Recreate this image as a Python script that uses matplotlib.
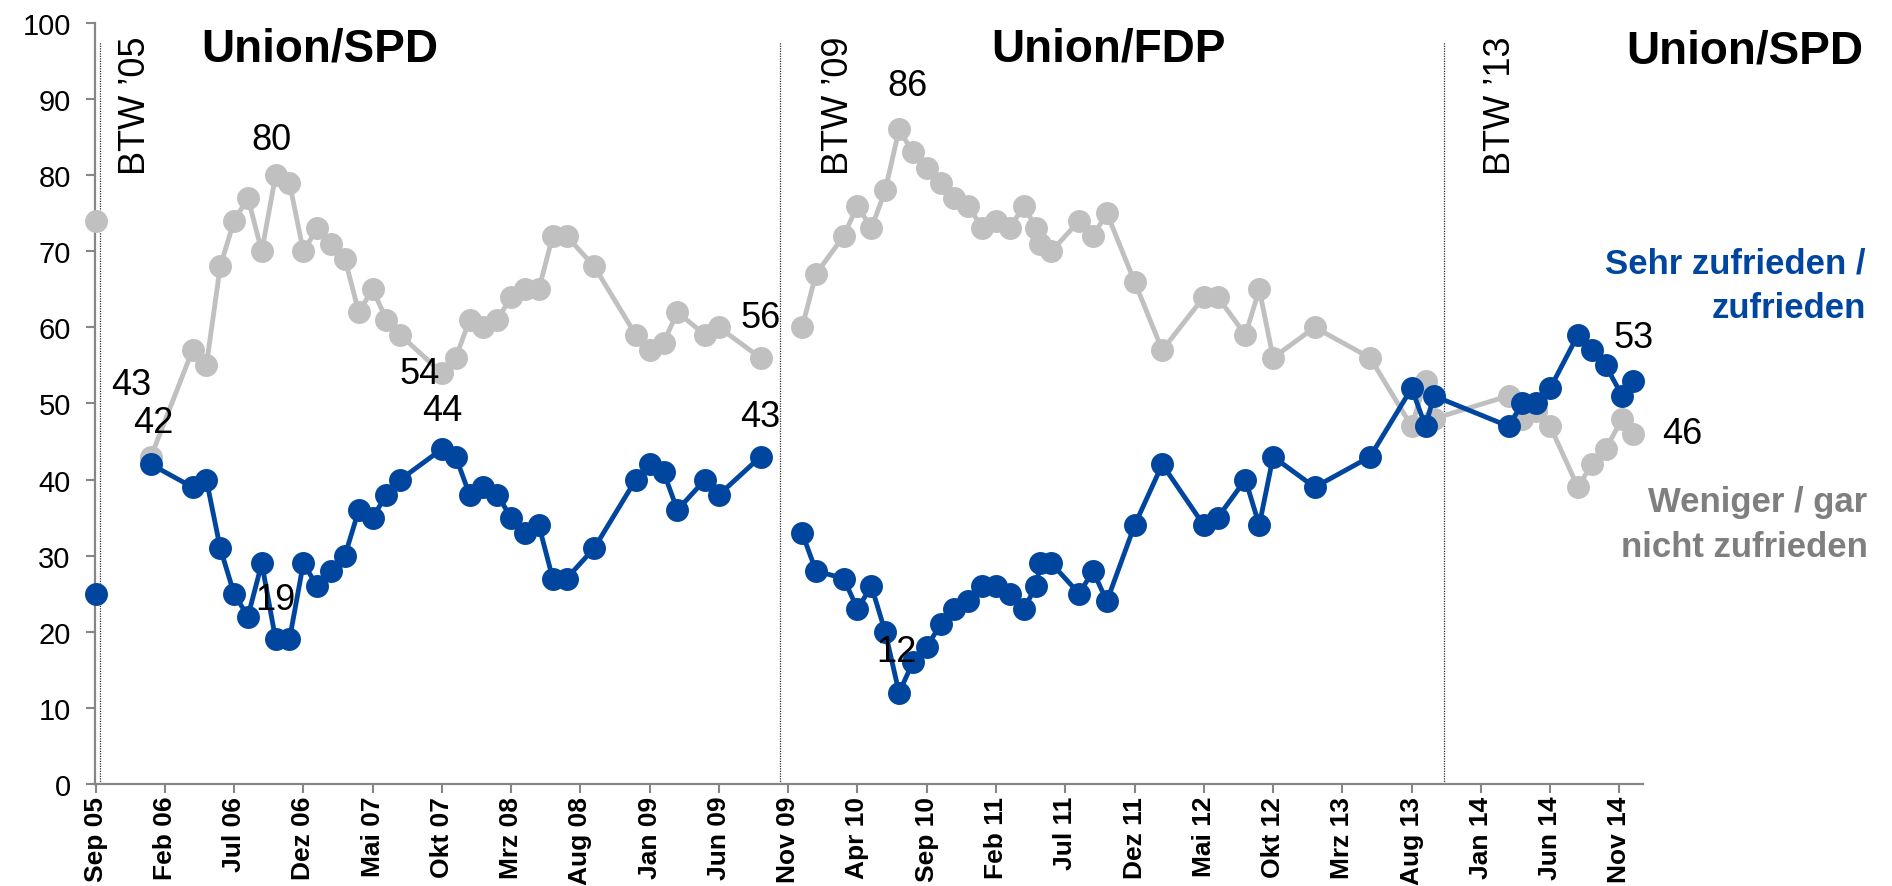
import numpy as np
import matplotlib
matplotlib.use("Agg")
import matplotlib.pyplot as plt

# ---------------- data (months since Sep 2005) ----------------
months = [0, 2, 4, 7, 8, 9, 10, 11, 12, 13, 14, 15, 16, 17, 18, 19, 20, 21, 22,
          25, 26, 27, 28, 29, 30, 31, 32, 33, 34, 36, 39, 40, 41, 42, 44, 45, 48,
          49.5, 51, 52, 54, 55, 56, 57, 58, 59, 60, 61, 62, 63, 64, 65, 66, 67,
          67.9, 68.2, 69, 71, 72, 73, 75, 77, 80, 81, 83, 84, 85, 88, 92, 95,
          96, 96.6, 102, 103, 104, 105, 107, 108, 109, 110.2, 111]

satisfied = [25, np.nan, 42, 39, 40, 31, 25, 22, 29, 19, 19, 29, 26, 28, 30, 36, 35, 38, 40,
             44, 43, 38, 39, 38, 35, 33, 34, 27, 27, 31, 40, 42, 41, 36, 40, 38, 43,
             np.nan, 33, 28, 27, 23, 26, 20, 12, 16, 18, 21, 23, 24, 26, 26, 25, 23,
             26, 29, 29, 25, 28, 24, 34, 42, 34, 35, 40, 34, 43, 39, 43, 52,
             47, 51, 47, 50, 50, 52, 59, 57, 55, 51, 53]

dissatisfied = [74, np.nan, 43, 57, 55, 68, 74, 77, 70, 80, 79, 70, 73, 71, 69, 62, 65, 61, 59,
                54, 56, 61, 60, 61, 64, 65, 65, 72, 72, 68, 59, 57, 58, 62, 59, 60, 56,
                np.nan, 60, 67, 72, 76, 73, 78, 86, 83, 81, 79, 77, 76, 73, 74, 73, 76,
                73, 71, 70, 74, 72, 75, 66, 57, 64, 64, 59, 65, 56, 60, 56, 47,
                53, 48, 51, 48, 49, 47, 39, 42, 44, 48, 46]

tick_months = list(range(0, 111, 5))
tick_labels = ["Sep 05", "Feb 06", "Jul 06", "Dez 06", "Mai 07", "Okt 07", "Mrz 08",
               "Aug 08", "Jan 09", "Jun 09", "Nov 09", "Apr 10", "Sep 10", "Feb 11",
               "Jul 11", "Dez 11", "Mai 12", "Okt 12", "Mrz 13", "Aug 13", "Jan 14",
               "Jun 14", "Nov 14"]

election_months = [0.3, 49.4, 97.3]
election_labels = ["BTW \u201905", "BTW \u201909", "BTW \u201913"]
coalition_labels = ["Union/SPD", "Union/FDP", "Union/SPD"]

# labelled points: month ; label offset in points
sat_labels = [(4, (2, 30)), (25, (0, 28)), (13, (0, 29)), (48, (0, 29)), (58, (-2, 30)), (111, (0, 31))]
dis_labels = [(4, (-14, 52)), (13, (-3, 26)), (25, (-16, 0)), (48, (0, 29)), (58, (6, 32)), (111, (35, 0))]

BLUE = "#00469E"
GREY = "#C0C0C0"
AXC = "#868686"
NARROW = ["Liberation Sans Narrow", "Liberation Sans", "DejaVu Sans"]
SANS = ["Liberation Sans", "DejaVu Sans"]

fig = plt.figure(figsize=(18.92, 8.87), dpi=100)
ax = fig.add_axes([0.0502, 0.115, 0.8182, 0.858])

ax.plot(months, dissatisfied, color=GREY, lw=3.5, marker="o", ms=15.5, clip_on=False, zorder=3)
ax.plot(months, satisfied, color=BLUE, lw=3.5, marker="o", ms=15.5, clip_on=False, zorder=4)

ax.set_xlim(-0.04, 111.7)
ax.set_ylim(0, 100)

for xm in election_months:
    ax.plot([xm, xm], [0, 97.5], color="#333333", lw=0.9, ls=(0, (1, 1)), zorder=1)

ax.text(2.9, 98.3, election_labels[0], rotation=90, ha="center", va="top", fontsize=26, family=SANS)
ax.text(53.6, 98.3, election_labels[1], rotation=90, ha="center", va="top", fontsize=26, family=SANS)
ax.text(101.4, 98.3, election_labels[2], rotation=90, ha="center", va="top", fontsize=26, family=SANS)

ax.text(16.2, 95.1, coalition_labels[0], ha="center", va="baseline", fontsize=33, fontweight="bold", family=SANS)
ax.text(73.1, 95.1, coalition_labels[1], ha="center", va="baseline", fontsize=33, fontweight="bold", family=SANS)
fig.text(0.985, 1 - 64 / 887, coalition_labels[2], ha="right", va="baseline", fontsize=33, fontweight="bold", family=SANS)

fig.text(0.986, 1 - 273 / 887, "Sehr zufrieden /", ha="right", va="baseline", fontsize=25,
         fontweight="bold", color=BLUE, family=SANS)
fig.text(0.986, 1 - 318 / 887, "zufrieden", ha="right", va="baseline", fontsize=25,
         fontweight="bold", color=BLUE, family=SANS)
fig.text(0.987, 1 - 512 / 887, "Weniger / gar", ha="right", va="baseline", fontsize=25,
         fontweight="bold", color="#7F7F7F", family=SANS)
fig.text(0.987, 1 - 557 / 887, "nicht zufrieden", ha="right", va="baseline", fontsize=25,
         fontweight="bold", color="#7F7F7F", family=SANS)


def value_at(series, m):
    return series[months.index(m)]


for m, off in sat_labels:
    v = value_at(satisfied, m)
    ax.annotate(f"{int(v)}", xy=(m, v), xytext=off, textcoords="offset points",
                ha="center", va="center", fontsize=26, family=NARROW, zorder=6)
for m, off in dis_labels:
    v = value_at(dissatisfied, m)
    ax.annotate(f"{int(v)}", xy=(m, v), xytext=off, textcoords="offset points",
                ha="center", va="center", fontsize=26, family=NARROW, zorder=6)

ax.set_yticks(range(0, 101, 10))
ax.set_xticks(tick_months)
ax.set_xticklabels(tick_labels, rotation=90, fontsize=19, fontweight="bold", family=NARROW)
for t in ax.get_yticklabels():
    t.set_fontsize(21)
    t.set_family(NARROW)

for s in ["top", "right"]:
    ax.spines[s].set_visible(False)
for s in ["left", "bottom"]:
    ax.spines[s].set_color(AXC)
    ax.spines[s].set_linewidth(1.6)
ax.tick_params(axis="both", direction="out", length=6.5, width=1.5, color=AXC)
ax.tick_params(axis="y", pad=11)
ax.tick_params(axis="x", pad=2)

fig.savefig("out.png", dpi=100)
